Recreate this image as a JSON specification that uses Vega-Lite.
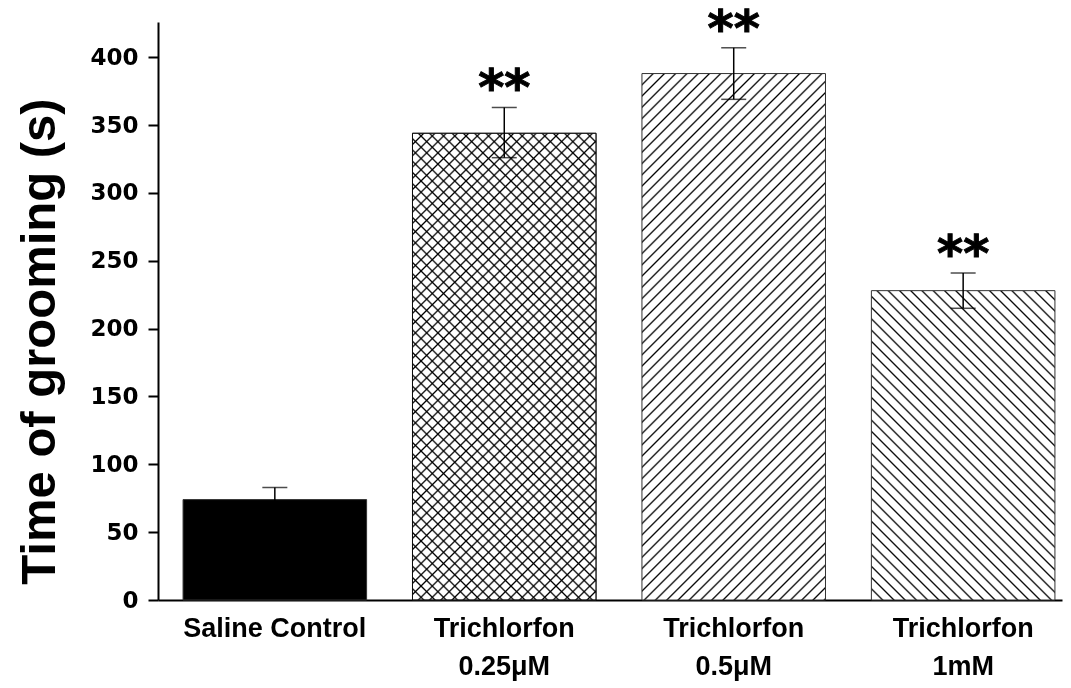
{
  "$schema": "https://vega.github.io/schema/vega-lite/v6.json",
  "autosize": "none",
  "width": 904,
  "height": 578,
  "padding": {"left": 158, "top": 22, "right": 9, "bottom": 88},
  "background": "white",
  "config": {"view": {"stroke": null}},
  "params": [
    {"name": "hs", "value": [
      {"offset":0,"color":"#fff"},
      {"offset":0.0131,"color":"#fff"},{"offset":0.0156,"color":"#000"},{"offset":0.0181,"color":"#fff"},
      {"offset":0.0288,"color":"#fff"},{"offset":0.0313,"color":"#000"},{"offset":0.0338,"color":"#fff"},
      {"offset":0.0444,"color":"#fff"},{"offset":0.0469,"color":"#000"},{"offset":0.0494,"color":"#fff"},
      {"offset":0.0600,"color":"#fff"},{"offset":0.0625,"color":"#000"},{"offset":0.0650,"color":"#fff"},
      {"offset":0.0756,"color":"#fff"},{"offset":0.0781,"color":"#000"},{"offset":0.0806,"color":"#fff"},
      {"offset":0.0913,"color":"#fff"},{"offset":0.0938,"color":"#000"},{"offset":0.0963,"color":"#fff"},
      {"offset":0.1069,"color":"#fff"},{"offset":0.1094,"color":"#000"},{"offset":0.1119,"color":"#fff"},
      {"offset":0.1225,"color":"#fff"},{"offset":0.1250,"color":"#000"},{"offset":0.1275,"color":"#fff"},
      {"offset":0.1381,"color":"#fff"},{"offset":0.1406,"color":"#000"},{"offset":0.1431,"color":"#fff"},
      {"offset":0.1538,"color":"#fff"},{"offset":0.1563,"color":"#000"},{"offset":0.1588,"color":"#fff"},
      {"offset":0.1694,"color":"#fff"},{"offset":0.1719,"color":"#000"},{"offset":0.1744,"color":"#fff"},
      {"offset":0.1850,"color":"#fff"},{"offset":0.1875,"color":"#000"},{"offset":0.1900,"color":"#fff"},
      {"offset":0.2006,"color":"#fff"},{"offset":0.2031,"color":"#000"},{"offset":0.2056,"color":"#fff"},
      {"offset":0.2163,"color":"#fff"},{"offset":0.2188,"color":"#000"},{"offset":0.2213,"color":"#fff"},
      {"offset":0.2319,"color":"#fff"},{"offset":0.2344,"color":"#000"},{"offset":0.2369,"color":"#fff"},
      {"offset":0.2475,"color":"#fff"},{"offset":0.2500,"color":"#000"},{"offset":0.2525,"color":"#fff"},
      {"offset":0.2631,"color":"#fff"},{"offset":0.2656,"color":"#000"},{"offset":0.2681,"color":"#fff"},
      {"offset":0.2788,"color":"#fff"},{"offset":0.2813,"color":"#000"},{"offset":0.2838,"color":"#fff"},
      {"offset":0.2944,"color":"#fff"},{"offset":0.2969,"color":"#000"},{"offset":0.2994,"color":"#fff"},
      {"offset":0.3100,"color":"#fff"},{"offset":0.3125,"color":"#000"},{"offset":0.3150,"color":"#fff"},
      {"offset":0.3256,"color":"#fff"},{"offset":0.3281,"color":"#000"},{"offset":0.3306,"color":"#fff"},
      {"offset":0.3413,"color":"#fff"},{"offset":0.3438,"color":"#000"},{"offset":0.3463,"color":"#fff"},
      {"offset":0.3569,"color":"#fff"},{"offset":0.3594,"color":"#000"},{"offset":0.3619,"color":"#fff"},
      {"offset":0.3725,"color":"#fff"},{"offset":0.3750,"color":"#000"},{"offset":0.3775,"color":"#fff"},
      {"offset":0.3881,"color":"#fff"},{"offset":0.3906,"color":"#000"},{"offset":0.3931,"color":"#fff"},
      {"offset":0.4038,"color":"#fff"},{"offset":0.4063,"color":"#000"},{"offset":0.4088,"color":"#fff"},
      {"offset":0.4194,"color":"#fff"},{"offset":0.4219,"color":"#000"},{"offset":0.4244,"color":"#fff"},
      {"offset":0.4350,"color":"#fff"},{"offset":0.4375,"color":"#000"},{"offset":0.4400,"color":"#fff"},
      {"offset":0.4506,"color":"#fff"},{"offset":0.4531,"color":"#000"},{"offset":0.4556,"color":"#fff"},
      {"offset":0.4663,"color":"#fff"},{"offset":0.4688,"color":"#000"},{"offset":0.4713,"color":"#fff"},
      {"offset":0.4819,"color":"#fff"},{"offset":0.4844,"color":"#000"},{"offset":0.4869,"color":"#fff"},
      {"offset":0.4975,"color":"#fff"},{"offset":0.5000,"color":"#000"},{"offset":0.5025,"color":"#fff"},
      {"offset":0.5131,"color":"#fff"},{"offset":0.5156,"color":"#000"},{"offset":0.5181,"color":"#fff"},
      {"offset":0.5288,"color":"#fff"},{"offset":0.5313,"color":"#000"},{"offset":0.5338,"color":"#fff"},
      {"offset":0.5444,"color":"#fff"},{"offset":0.5469,"color":"#000"},{"offset":0.5494,"color":"#fff"},
      {"offset":0.5600,"color":"#fff"},{"offset":0.5625,"color":"#000"},{"offset":0.5650,"color":"#fff"},
      {"offset":0.5756,"color":"#fff"},{"offset":0.5781,"color":"#000"},{"offset":0.5806,"color":"#fff"},
      {"offset":0.5913,"color":"#fff"},{"offset":0.5938,"color":"#000"},{"offset":0.5963,"color":"#fff"},
      {"offset":0.6069,"color":"#fff"},{"offset":0.6094,"color":"#000"},{"offset":0.6119,"color":"#fff"},
      {"offset":0.6225,"color":"#fff"},{"offset":0.6250,"color":"#000"},{"offset":0.6275,"color":"#fff"},
      {"offset":0.6381,"color":"#fff"},{"offset":0.6406,"color":"#000"},{"offset":0.6431,"color":"#fff"},
      {"offset":0.6538,"color":"#fff"},{"offset":0.6563,"color":"#000"},{"offset":0.6588,"color":"#fff"},
      {"offset":0.6694,"color":"#fff"},{"offset":0.6719,"color":"#000"},{"offset":0.6744,"color":"#fff"},
      {"offset":0.6850,"color":"#fff"},{"offset":0.6875,"color":"#000"},{"offset":0.6900,"color":"#fff"},
      {"offset":0.7006,"color":"#fff"},{"offset":0.7031,"color":"#000"},{"offset":0.7056,"color":"#fff"},
      {"offset":0.7163,"color":"#fff"},{"offset":0.7188,"color":"#000"},{"offset":0.7213,"color":"#fff"},
      {"offset":0.7319,"color":"#fff"},{"offset":0.7344,"color":"#000"},{"offset":0.7369,"color":"#fff"},
      {"offset":0.7475,"color":"#fff"},{"offset":0.7500,"color":"#000"},{"offset":0.7525,"color":"#fff"},
      {"offset":0.7631,"color":"#fff"},{"offset":0.7656,"color":"#000"},{"offset":0.7681,"color":"#fff"},
      {"offset":0.7788,"color":"#fff"},{"offset":0.7813,"color":"#000"},{"offset":0.7838,"color":"#fff"},
      {"offset":0.7944,"color":"#fff"},{"offset":0.7969,"color":"#000"},{"offset":0.7994,"color":"#fff"},
      {"offset":0.8100,"color":"#fff"},{"offset":0.8125,"color":"#000"},{"offset":0.8150,"color":"#fff"},
      {"offset":0.8256,"color":"#fff"},{"offset":0.8281,"color":"#000"},{"offset":0.8306,"color":"#fff"},
      {"offset":0.8413,"color":"#fff"},{"offset":0.8438,"color":"#000"},{"offset":0.8463,"color":"#fff"},
      {"offset":0.8569,"color":"#fff"},{"offset":0.8594,"color":"#000"},{"offset":0.8619,"color":"#fff"},
      {"offset":0.8725,"color":"#fff"},{"offset":0.8750,"color":"#000"},{"offset":0.8775,"color":"#fff"},
      {"offset":0.8881,"color":"#fff"},{"offset":0.8906,"color":"#000"},{"offset":0.8931,"color":"#fff"},
      {"offset":0.9038,"color":"#fff"},{"offset":0.9063,"color":"#000"},{"offset":0.9088,"color":"#fff"},
      {"offset":0.9194,"color":"#fff"},{"offset":0.9219,"color":"#000"},{"offset":0.9244,"color":"#fff"},
      {"offset":0.9350,"color":"#fff"},{"offset":0.9375,"color":"#000"},{"offset":0.9400,"color":"#fff"},
      {"offset":0.9506,"color":"#fff"},{"offset":0.9531,"color":"#000"},{"offset":0.9556,"color":"#fff"},
      {"offset":0.9663,"color":"#fff"},{"offset":0.9688,"color":"#000"},{"offset":0.9713,"color":"#fff"},
      {"offset":0.9819,"color":"#fff"},{"offset":0.9844,"color":"#000"},{"offset":0.9869,"color":"#fff"},
      {"offset":1,"color":"#fff"}
    ]}
  ],
  "data": {
    "values": [
      {"group": "Saline Control", "mean": 74, "low": 65, "high": 83, "sig": ""},
      {"group": "Trichlorfon|0.25μM", "mean": 344, "low": 326, "high": 363, "sig": "**"},
      {"group": "Trichlorfon|0.5μM", "mean": 388, "low": 369, "high": 407, "sig": "**"},
      {"group": "Trichlorfon|1mM", "mean": 228, "low": 215, "high": 241, "sig": "**"}
    ]
  },
  "encoding": {
    "x": {
      "field": "group",
      "type": "nominal",
      "sort": null,
      "scale": {"paddingInner": 0.2, "paddingOuter": 0.07, "align": 0.78},
      "axis": {
        "title": null,
        "labelAngle": 0,
        "labelExpr": "split(datum.label, '|')",
        "labelFont": "Liberation Sans",
        "labelFontWeight": "bold",
        "labelFontSize": 27,
        "labelColor": "#000",
        "labelLineHeight": 38,
        "labelBaseline": "top",
        "labelPadding": 15,
        "labelLimit": 400,
        "ticks": false,
        "domainColor": "#000",
        "domainWidth": 2
      }
    }
  },
  "layer": [
    {
      "transform": [{"filter": "datum.group == 'Saline Control'"}],
      "mark": {"type": "bar", "fill": "#000", "stroke": "#333", "strokeWidth": 1},
      "encoding": {
        "y": {
          "field": "mean",
          "type": "quantitative",
          "scale": {"domain": [0, 426], "nice": false},
          "axis": {
            "title": "Time of grooming (s)",
            "titleFont": "Liberation Sans",
            "titleFontWeight": "bold",
            "titleFontSize": 49,
            "titleColor": "#000",
            "titleAngle": -90,
            "titleAlign": "center",
            "titleBaseline": "alphabetic",
            "titleX": -104,
            "titleY": 319,
            "values": [0, 50, 100, 150, 200, 250, 300, 350, 400],
            "grid": false,
            "tickSize": 10,
            "tickWidth": 2,
            "tickColor": "#000",
            "domainColor": "#000",
            "domainWidth": 2,
            "labelFont": "DejaVu Sans",
            "labelFontWeight": "bold",
            "labelFontSize": 23,
            "labelColor": "#000",
            "labelPadding": 10
          }
        }
      }
    },
    {
      "transform": [{"filter": "datum.group == 'Trichlorfon|0.25μM'"}],
      "mark": {"type": "bar", "fill": {"expr": "{gradient: 'linear', x1: 0, y1: 0, x2: 0.5256, y2: 1.3360, stops: hs}"}, "stroke": "#333", "strokeWidth": 1},
      "encoding": {"y": {"field": "mean", "type": "quantitative"}}
    },
    {
      "transform": [{"filter": "datum.group == 'Trichlorfon|0.25μM'"}],
      "mark": {"type": "bar", "blend": "multiply", "fill": {"expr": "{gradient: 'linear', x1: 0, y1: 1, x2: 0.5256, y2: -0.3360, stops: hs}"}, "stroke": "#333", "strokeWidth": 1},
      "encoding": {"y": {"field": "mean", "type": "quantitative"}}
    },
    {
      "transform": [{"filter": "datum.group == 'Trichlorfon|0.5μM'"}],
      "mark": {"type": "bar", "fill": {"expr": "{gradient: 'linear', x1: 0, y1: 0, x2: 0.4253, y2: 1.2195, stops: hs}"}, "stroke": "#333", "strokeWidth": 1},
      "encoding": {"y": {"field": "mean", "type": "quantitative"}}
    },
    {
      "transform": [{"filter": "datum.group == 'Trichlorfon|1mM'"}],
      "mark": {"type": "bar", "fill": {"expr": "{gradient: 'linear', x1: 0, y1: 1, x2: 1.0213, y2: -0.7211, stops: hs}"}, "stroke": "#333", "strokeWidth": 1},
      "encoding": {"y": {"field": "mean", "type": "quantitative"}}
    },
    {
      "mark": {"type": "rule", "color": "#000", "strokeWidth": 1.5},
      "encoding": {
        "y": {"field": "low", "type": "quantitative"},
        "y2": {"field": "high"}
      }
    },
    {
      "mark": {"type": "tick", "color": "#000", "size": 25, "thickness": 1.5},
      "encoding": {"y": {"field": "high", "type": "quantitative"}}
    },
    {
      "mark": {"type": "tick", "color": "#000", "size": 25, "thickness": 1.5},
      "encoding": {"y": {"field": "low", "type": "quantitative"}}
    },
    {
      "mark": {"type": "text", "font": "DejaVu Sans", "fontWeight": "bold", "fontSize": 50, "baseline": "alphabetic", "align": "center", "dy": -2, "fill": "#000", "stroke": "#000", "strokeWidth": 1},
      "encoding": {
        "y": {"field": "high", "type": "quantitative"},
        "text": {"field": "sig"}
      }
    }
  ]
}
